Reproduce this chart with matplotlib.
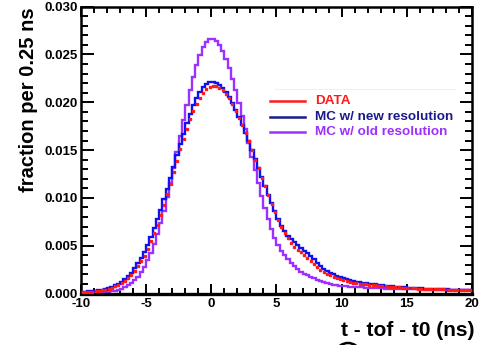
import numpy as np
import matplotlib
matplotlib.use("Agg")
import matplotlib.pyplot as plt
from matplotlib.lines import Line2D
from matplotlib.patches import Arc
from matplotlib.ticker import MultipleLocator, FormatStrFormatter

plt.rcParams["font.family"] = ["Liberation Sans", "DejaVu Sans"]
plt.rcParams["font.weight"] = "bold"
plt.rcParams["axes.unicode_minus"] = False

# histogram binning: 0.25 ns bins from -10 to 20 ns
x_lo, x_hi, bin_w = -10.0, 20.0, 0.25

# one row = 2 ns (8 bins), rows start at -10, -8, ..., 18
data = [
    0.00015, 0.00017, 0.00019, 0.00021, 0.00025, 0.00030, 0.00035, 0.00042,
    0.00050, 0.00060, 0.00075, 0.00092, 0.00110, 0.00133, 0.00162, 0.00196,
    0.00237, 0.00284, 0.00338, 0.00398, 0.00468, 0.00545, 0.00630, 0.00720,
    0.00820, 0.00930, 0.01040, 0.01150, 0.01270, 0.01390, 0.01510, 0.01620,
    0.01720, 0.01820, 0.01905, 0.01980, 0.02040, 0.02095, 0.02135, 0.02160,
    0.02172, 0.02168, 0.02150, 0.02128, 0.02090, 0.02040, 0.01980, 0.01910,
    0.01840, 0.01760, 0.01680, 0.01590, 0.01500, 0.01400, 0.01310, 0.01210,
    0.01120, 0.01030, 0.00940, 0.00850, 0.00770, 0.00700, 0.00630, 0.00580,
    0.00530, 0.00490, 0.00460, 0.00430, 0.00400, 0.00370, 0.00340, 0.00310,
    0.00280, 0.00250, 0.00230, 0.00210, 0.00190, 0.00170, 0.00160, 0.00150,
    0.00140, 0.00130, 0.00120, 0.00115, 0.00110, 0.00105, 0.00100, 0.00096,
    0.00092, 0.00088, 0.00085, 0.00082, 0.00079, 0.00076, 0.00073, 0.00070,
    0.00068, 0.00066, 0.00063, 0.00061, 0.00059, 0.00057, 0.00055, 0.00053,
    0.00052, 0.00050, 0.00049, 0.00048, 0.00046, 0.00045, 0.00044, 0.00043,
    0.00042, 0.00041, 0.00040, 0.00039, 0.00038, 0.00037, 0.00036, 0.00035,
]

mc_new = [
    0.00018, 0.00020, 0.00022, 0.00025, 0.00029, 0.00034, 0.00040, 0.00048,
    0.00058, 0.00070, 0.00086, 0.00105, 0.00125, 0.00150, 0.00182, 0.00220,
    0.00265, 0.00315, 0.00373, 0.00438, 0.00513, 0.00592, 0.00681, 0.00776,
    0.00877, 0.00984, 0.01096, 0.01211, 0.01328, 0.01446, 0.01562, 0.01673,
    0.01781, 0.01879, 0.01967, 0.02044, 0.02108, 0.02158, 0.02191, 0.02208,
    0.02210, 0.02197, 0.02176, 0.02144, 0.02102, 0.02050, 0.01990, 0.01922,
    0.01848, 0.01767, 0.01681, 0.01592, 0.01500, 0.01406, 0.01312, 0.01218,
    0.01125, 0.01034, 0.00946, 0.00860, 0.00780, 0.00710, 0.00650, 0.00600,
    0.00570, 0.00540, 0.00510, 0.00480, 0.00450, 0.00420, 0.00390, 0.00360,
    0.00320, 0.00290, 0.00260, 0.00240, 0.00220, 0.00200, 0.00180, 0.00170,
    0.00160, 0.00150, 0.00140, 0.00130, 0.00125, 0.00120, 0.00115, 0.00110,
    0.00105, 0.00100, 0.00096, 0.00092, 0.00088, 0.00084, 0.00080, 0.00077,
    0.00074, 0.00071, 0.00068, 0.00065, 0.00062, 0.00060, 0.00058, 0.00056,
    0.00054, 0.00052, 0.00050, 0.00049, 0.00048, 0.00046, 0.00045, 0.00044,
    0.00043, 0.00042, 0.00041, 0.00040, 0.00039, 0.00038, 0.00037, 0.00036,
]

mc_old = [
    0.00010, 0.00010, 0.00010, 0.00011, 0.00012, 0.00013, 0.00015, 0.00017,
    0.00020, 0.00024, 0.00030, 0.00038, 0.00050, 0.00065, 0.00085, 0.00110,
    0.00140, 0.00178, 0.00225, 0.00282, 0.00349, 0.00428, 0.00518, 0.00622,
    0.00738, 0.00866, 0.01005, 0.01155, 0.01313, 0.01477, 0.01644, 0.01810,
    0.01971, 0.02124, 0.02264, 0.02387, 0.02492, 0.02573, 0.02628, 0.02657,
    0.02657, 0.02636, 0.02595, 0.02533, 0.02454, 0.02358, 0.02248, 0.02127,
    0.01995, 0.01858, 0.01716, 0.01571, 0.01428, 0.01287, 0.01151, 0.01020,
    0.00898, 0.00784, 0.00680, 0.00584, 0.00510, 0.00450, 0.00400, 0.00360,
    0.00320, 0.00290, 0.00260, 0.00230, 0.00210, 0.00190, 0.00170, 0.00160,
    0.00145, 0.00130, 0.00120, 0.00110, 0.00102, 0.00095, 0.00089, 0.00084,
    0.00080, 0.00077, 0.00074, 0.00071, 0.00068, 0.00066, 0.00064, 0.00062,
    0.00060, 0.00058, 0.00057, 0.00055, 0.00054, 0.00053, 0.00052, 0.00051,
    0.00050, 0.00049, 0.00048, 0.00047, 0.00046, 0.00045, 0.00044, 0.00044,
    0.00043, 0.00042, 0.00042, 0.00041, 0.00040, 0.00040, 0.00039, 0.00039,
    0.00038, 0.00038, 0.00037, 0.00037, 0.00036, 0.00036, 0.00035, 0.00035,
]

labels = ["DATA", "MC w/ new resolution", "MC w/ old resolution"]
c_data, c_new, c_old = "#ff1a1a", "#1010f0", "#9b30ff"
c_new_txt = "#1a1a8c"

edges = np.arange(x_lo, x_hi + bin_w / 2, bin_w)
centers = 0.5 * (edges[:-1] + edges[1:])

fig = plt.figure(figsize=(4.89, 3.45), dpi=100)
ax = fig.add_axes([0.1656, 0.149, 0.7996, 0.832])

ax.stairs(mc_old, edges, baseline=None, color=c_old, lw=1.7, zorder=2)
ax.stairs(mc_new, edges, baseline=None, color=c_new, lw=1.7, zorder=3)
ax.plot(centers, data, ls="none", marker="s", ms=1.5, color=c_data,
        mec=c_data, zorder=4)

ax.set_xlim(x_lo, x_hi)
ax.set_ylim(0, 0.030)
ax.xaxis.set_major_locator(MultipleLocator(5))
ax.xaxis.set_minor_locator(MultipleLocator(1))
ax.yaxis.set_major_locator(MultipleLocator(0.005))
ax.yaxis.set_minor_locator(MultipleLocator(0.001))
ax.yaxis.set_major_formatter(FormatStrFormatter("%.3f"))
ax.tick_params(which="both", direction="in", top=True, right=True,
               width=1.4, labelsize=9.5)
ax.tick_params(axis="x", which="major", length=7, pad=3)
ax.tick_params(axis="x", which="minor", length=4)
ax.tick_params(axis="y", which="major", length=9, pad=2)
ax.tick_params(axis="y", which="minor", length=5)
for lab in ax.get_xticklabels() + ax.get_yticklabels():
    lab.set_fontweight("bold")
for side in ["left", "bottom", "right", "top"]:
    ax.spines[side].set_linewidth(1.8)
ax.spines["bottom"].set_linewidth(2.4)

fig.text(29 / 489, 1 - 7 / 345, "fraction per 0.25 ns", rotation=90,
         ha="center", va="top", fontsize=14.5, fontweight="bold")
fig.text(475 / 489, 1 - 331 / 345, "t - tof - t0 (ns)", ha="right",
         va="center", fontsize=15, fontweight="bold")

# legend drawn by hand, ROOT style
leg_x0, leg_x1, leg_tx = 270, 305, 315
leg_y = [101.5, 117, 132.5]
txt_cols = [c_data, c_new_txt, c_old]
line_cols = [c_data, c_new_txt, c_old]
for lab, yy, tc, lc in zip(labels, leg_y, txt_cols, line_cols):
    fy = 1 - yy / 345
    fig.add_artist(Line2D([leg_x0 / 489, leg_x1 / 489], [fy, fy],
                          color=lc, lw=1.8))
    fig.text(leg_tx / 489, fy, lab, color=tc, ha="left", va="center",
             fontsize=9.7, fontweight="bold")
fig.add_artist(Line2D([275 / 489, 455 / 489], [1 - 89 / 345] * 2,
                      color="#f4f4d0", lw=0.8))

# partly visible circle at the bottom edge
fig.add_artist(Arc((348 / 489, 1 - 356 / 345), 26 / 489, 26 / 345,
                   theta1=20, theta2=160, color="black", lw=1.8))

fig.savefig("out.png", dpi=100)
